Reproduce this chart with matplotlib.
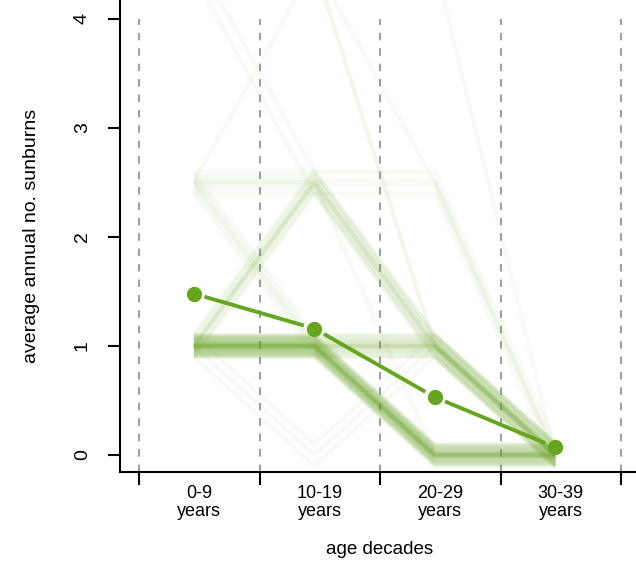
import numpy as np
import matplotlib.pyplot as plt

plt.rcParams['font.family'] = ['Liberation Sans', 'DejaVu Sans']

# age decades on the x axis
decades = ['0-9\nyears', '10-19\nyears', '20-29\nyears', '30-39\nyears']

# individual trajectories (value per decade) and how many people follow each
traj_0_9 = [1, 1, 2.5, 2.5, 1, 1, 1, 4.5, 2.5, 4.5, 4.5, 4.5, 1]
traj_10_19 = [1, 1, 2.5, 1, 2.5, 2.5, 0, 2.5, 4.5, 4.5, 4.5, 4.5, 2.5]
traj_20_29 = [0, 1, 1, 1, 1, 2.5, 1, 1, 1, 1, 2.5, 4.5, 0]
traj_30_39 = [0, 0, 0, 0, 0, 0, 0, 0, 0, 0, 0, 0, 0]
traj_counts = [60, 24, 8, 6, 8, 4, 3, 2, 1, 1, 1, 1, 1]

# mean per decade
mean_sunburns = [1.48, 1.16, 0.53, 0.07]

green = '#66A61E'

fig = plt.figure(figsize=(6.36, 5.67), dpi=100)
ax = fig.add_axes([120 / 636, 95 / 567, 516 / 636, 472 / 567])
ax.set_xlim(0.342, 4.624)
ax.set_ylim(-0.156, 4.174)

xs = np.arange(1, 5) - 0.045

# dashed separators between decades
for b in np.arange(0.5, 5.0, 1.0):
    ax.plot([b, b], [-0.156, 4.0], color='#a0a0a0', lw=1.5,
            dashes=(3.6, 3.8), zorder=1)

# faint individual lines, spread a little so they form bands
trajs = np.array([traj_0_9, traj_10_19, traj_20_29, traj_30_39]).T
for vals, n in zip(trajs, traj_counts):
    if n == 1:
        offs = [0.0]
    else:
        t = np.linspace(-1, 1, n)
        offs = 0.1 * np.sign(t) * np.abs(t) ** 1.5
    for o in offs:
        ax.plot(xs, vals + o, color=green, alpha=0.045, lw=3,
                solid_capstyle='butt', zorder=2)

# mean line, with gaps around the points
gap = 11
pts = ax.transData.transform(np.column_stack([xs, mean_sunburns]))
for p0, p1 in zip(pts[:-1], pts[1:]):
    d = p1 - p0
    u = d / np.hypot(*d)
    seg = ax.transData.inverted().transform([p0 + u * gap, p1 - u * gap])
    ax.plot(seg[:, 0], seg[:, 1], color=green, lw=2.8,
            solid_capstyle='butt', zorder=3)
ax.plot(xs, mean_sunburns, 'o', color=green, ms=10, zorder=4)

for s in ['top', 'right']:
    ax.spines[s].set_visible(False)
for s in ['left', 'bottom']:
    ax.spines[s].set_linewidth(1.5)

ax.set_xticks(np.arange(0.5, 5.0, 1.0))
ax.set_xticklabels([])
ax.set_xticks([1, 2, 3, 4], decades, minor=True)
ax.tick_params(axis='x', which='major', length=9, width=1.5)
ax.tick_params(axis='x', which='minor', length=0, pad=9.5, labelsize=13)
for lab in ax.get_xticklabels(minor=True):
    lab.set_linespacing(1.1)

ax.set_yticks([0, 1, 2, 3, 4])
ax.tick_params(axis='y', length=9, width=1.5, labelsize=14,
               labelrotation=90, pad=12)
for lab in ax.get_yticklabels():
    lab.set_va('center')

fig.text(32 / 636, 1 - 236 / 567, 'average annual no. sunburns',
         rotation=90, ha='center', va='center', fontsize=14)
fig.text(380 / 636, 1 - 549 / 567, 'age decades',
         ha='center', va='center', fontsize=13.5)

fig.savefig('out.png', dpi=100)
